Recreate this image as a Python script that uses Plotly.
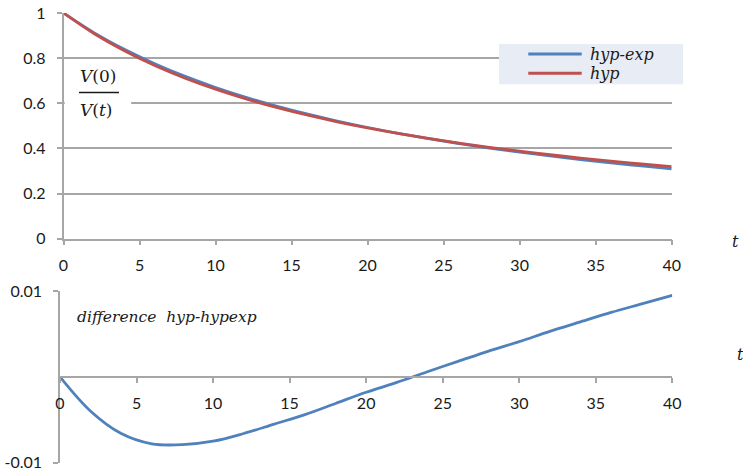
import plotly.graph_objects as go

# Time grid and the two decline curves V(0)/V(t)
t = [0, 2, 4, 6, 8, 10, 12, 14, 16, 18, 20, 22, 24, 26, 28, 30, 32, 34, 36, 38, 40]
hyp = [1.0, 0.909, 0.8325, 0.7673, 0.7112, 0.6625, 0.6197, 0.5819, 0.5482, 0.5181,
       0.4909, 0.4663, 0.4440, 0.4236, 0.4049, 0.3878, 0.3719, 0.3573, 0.3437, 0.3310, 0.3192]
hyp_exp = [1.0, 0.913, 0.8391, 0.7751, 0.7191, 0.6700, 0.6263, 0.5874, 0.5526, 0.5212,
           0.4927, 0.4670, 0.4434, 0.4218, 0.4019, 0.3837, 0.3666, 0.3509, 0.3362, 0.3225, 0.3097]
# hyp minus hyp-exp
difference = [0.0, -0.0040, -0.0066, -0.0078, -0.0079, -0.0075, -0.0066, -0.0055, -0.0044, -0.0031,
              -0.0018, -0.00065, 0.0006, 0.0018, 0.0030, 0.0041, 0.0053, 0.0064, 0.0075, 0.0085, 0.0095]

x_ticks = [0, 5, 10, 15, 20, 25, 30, 35, 40]
diff_ticks = [-0.01, 0.01]
diff_tick_text = ["-0.01", "0.01"]

W, H = 743, 472
BLUE = "#4F81BD"
RED = "#C0504D"
GRID = "#A6A6A6"
TXT = "#1a1a1a"
TICK_FONT = dict(family="Lato", size=16, color=TXT)
SERIF = "DejaVu Serif"


def px(x):
    return x / W


def py(y):
    return 1 - y / H


fig = go.Figure()
fig.add_trace(go.Scatter(x=t, y=hyp_exp, name="hyp-exp", mode="lines", line_shape="spline",
                         line=dict(color=BLUE, width=2.8), xaxis="x", yaxis="y"))
fig.add_trace(go.Scatter(x=t, y=hyp, name="hyp", mode="lines", line_shape="spline",
                         line=dict(color=RED, width=2.8), xaxis="x", yaxis="y"))
fig.add_trace(go.Scatter(x=t, y=difference, name="difference", mode="lines", line_shape="spline",
                         line=dict(color=BLUE, width=2.8), xaxis="x2", yaxis="y2"))

axis_common = dict(showline=True, linecolor=GRID, linewidth=1.5, ticks="outside", ticklen=5,
                   tickcolor=GRID, tickwidth=1.5, zeroline=False, tickfont=TICK_FONT,
                   automargin=False)

fig.update_layout(
    width=W, height=H, autosize=False,
    margin=dict(l=0, r=0, t=0, b=0),
    paper_bgcolor="white", plot_bgcolor="white",
    showlegend=False,
    xaxis=dict(domain=[px(63.5), px(671.7)], range=[0, 40], tickvals=x_ticks, showgrid=False,
               anchor="y", ticklabelstandoff=6, **axis_common),
    yaxis=dict(domain=[py(238.7), py(13)], range=[0, 1], dtick=0.2, showgrid=True,
               gridcolor=GRID, gridwidth=1.5, anchor="x", ticklabelstandoff=8, **axis_common),
    xaxis2=dict(domain=[px(60), px(672.3)], range=[0, 40], tickvals=x_ticks, showgrid=False,
                anchor="free", position=py(377.3), ticklabelstandoff=7, **axis_common),
    yaxis2=dict(domain=[py(462.7), py(291)], range=[-0.01, 0.01], tickvals=diff_ticks,
                ticktext=diff_tick_text, showgrid=True, gridcolor=GRID, gridwidth=1.5,
                anchor="x2", ticklabelstandoff=8, **axis_common),
)

shapes = [
    # white backing behind the V(0)/V(t) label, between the grid and the curves
    dict(type="rect", xref="x", yref="y", x0=0.08, x1=4.45, y0=0.50, y1=0.78,
         fillcolor="white", line_width=0, layer="between"),
    # fraction bar
    dict(type="line", xref="paper", yref="paper", x0=px(79), x1=px(119), y0=py(92.5), y1=py(92.5),
         line=dict(color=TXT, width=1.4), layer="above"),
    # legend panel
    dict(type="rect", xref="paper", yref="paper", x0=px(499), x1=px(683), y0=py(84.3), y1=py(44),
         fillcolor="#E7ECF5", line_width=0, layer="above"),
    dict(type="line", xref="paper", yref="paper", x0=px(528.3), x1=px(581.7), y0=py(54), y1=py(54),
         line=dict(color=BLUE, width=3), layer="above"),
    dict(type="line", xref="paper", yref="paper", x0=px(528.3), x1=px(581.7), y0=py(73.3), y1=py(73.3),
         line=dict(color=RED, width=3), layer="above"),
]
fig.update_layout(shapes=shapes)


def label(text, x, y, size=16, xanchor="left"):
    fig.add_annotation(text=text, x=px(x), y=py(y), xref="paper", yref="paper",
                       xanchor=xanchor, yanchor="middle", showarrow=False,
                       font=dict(family=SERIF, size=size, color=TXT))


label("<i>hyp-exp</i>", 587.7, 54)
label("<i>hyp</i>", 587.7, 73.3)
label("<i>V</i>(0)", 78, 76, size=17)
label("<i>V</i>(<i>t</i>)", 78, 110, size=17)
label("<i>t</i>", 730, 242)
label("<i>t</i>", 740, 354, xanchor="center")
label("<i>difference&nbsp;&nbsp;hyp-hypexp</i>", 75, 317, size=15.5)

fig.write_html("out.html")
